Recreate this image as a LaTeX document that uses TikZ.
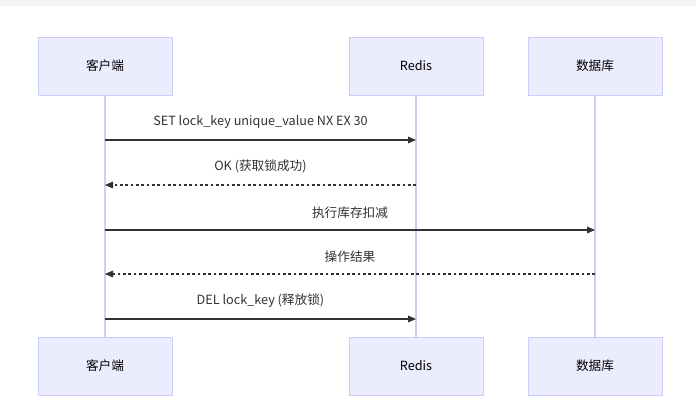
\documentclass[tikz,border=0pt]{standalone}
\usepackage{fontspec}
\setmainfont{Noto Sans CJK SC}
\usetikzlibrary{arrows.meta}
\definecolor{boxfill}{HTML}{ECECFF}
\definecolor{boxline}{HTML}{CCCCFF}
\definecolor{lifeline}{HTML}{D5CCF5}
\definecolor{ink}{HTML}{333333}
\begin{document}
\begin{tikzpicture}[x=0.75pt,y=-0.75pt,
  actor/.style={draw=boxline,fill=boxfill,minimum width=100.5pt,minimum height=43.5pt,inner sep=0pt,font=\fontsize{9.5}{11}\selectfont,text=black},
  life/.style={draw=lifeline,line width=0.9pt},
  msg/.style={draw=ink,line width=0.8pt,-{Triangle[length=6pt,width=5pt]}},
  ret/.style={msg,dash pattern=on 2pt off 2pt},
  lbl/.style={font=\fontsize{9.5}{11}\selectfont,text=ink}]
\fill[white] (0,0) rectangle (696,419);
\fill[black!4] (0,0) rectangle (696,6);
\node[actor] (c1) at (105,66) {客户端};
\node[actor] (r1) at (416,66) {Redis};
\node[actor] (d1) at (595,66) {数据库};
\node[actor] (c2) at (105,366) {客户端};
\node[actor] (r2) at (416,366) {Redis};
\node[actor] (d2) at (595,366) {数据库};
\draw[life] (c1) -- (c2);
\draw[life] (r1) -- (r2);
\draw[life] (d1) -- (d2);
\coordinate (ca) at (105,140); \coordinate (ra) at (416,140);
\coordinate (cb) at (105,185); \coordinate (rb) at (416,185);
\coordinate (cc) at (105,230); \coordinate (dc) at (595,230);
\coordinate (cd) at (105,274); \coordinate (dd) at (595,274);
\coordinate (ce) at (105,319); \coordinate (re) at (416,319);
\draw[msg] (ca) -- (ra) node[lbl,midway,above=5pt] (l1) {SET lock\_key unique\_value NX EX 30};
\draw[ret] (rb) -- (cb) node[lbl,midway,above=5pt] (l2) {OK (获取锁成功)};
\draw[msg] (cc) -- (dc) node[lbl,midway,above=5pt] (l3) {执行库存扣减};
\draw[ret] (dd) -- (cd) node[lbl,midway,above=5pt] (l4) {操作结果};
\draw[msg] (ce) -- (re) node[lbl,midway,above=5pt] (l5) {DEL lock\_key (释放锁)};
\end{tikzpicture}
\end{document}
